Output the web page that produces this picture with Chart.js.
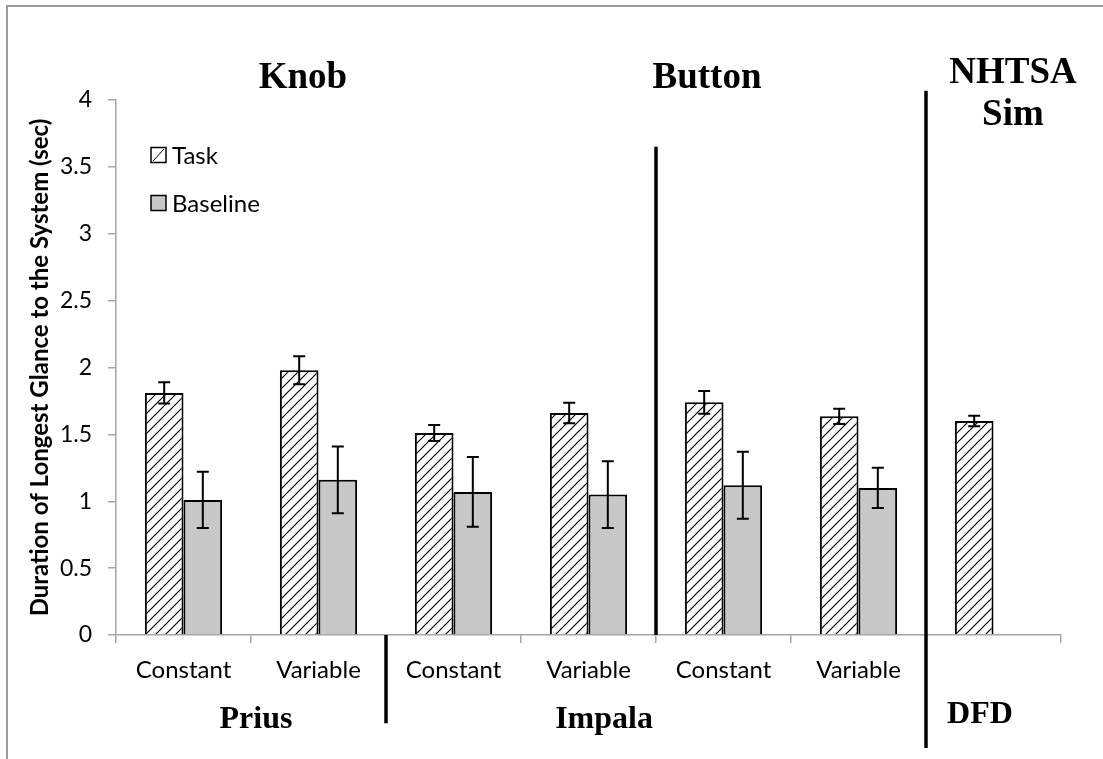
<!DOCTYPE html>
<html>
<head>
<meta charset="utf-8">
<script src="https://cdn.jsdelivr.net/npm/chart.js"></script>
<style>
  body { margin: 0; background: #fff; }
  #wrap { width: 1103px; height: 759px; position: relative; }
</style>
</head>
<body>
<div id="wrap"><canvas id="myChart"></canvas></div>
<script>
// values
const categories = ['Constant', 'Variable', 'Constant', 'Variable', 'Constant', 'Variable', ''];
const taskMeans = [1.81, 1.98, 1.51, 1.66, 1.74, 1.635, 1.60];
const taskErr = [0.08, 0.105, 0.06, 0.077, 0.085, 0.057, 0.04];
const baseMeans = [1.01, 1.16, 1.07, 1.05, 1.12, 1.10, null];
const baseErr = [0.21, 0.25, 0.26, 0.25, 0.25, 0.15, null];
const yTicks = [0, 0.5, 1, 1.5, 2, 2.5, 3, 3.5, 4];

// labels above / below the plot, at fractional category positions
const topLabels = [
  { text: 'Knob', at: 0.885, dy: -12 },
  { text: 'Button', at: 3.878, dy: -12 },
  { text: 'NHTSA', at: 6.144, dy: -17 },
  { text: 'Sim', at: 6.144, dy: 25 }
];
const bottomLabels = [
  { text: 'Prius', at: 0.537, dy: 93 },
  { text: 'Impala', at: 3.115, dy: 93 },
  { text: 'DFD', at: 5.9, dy: 88 }
];
// separators between categories: [position, top value, bottom value]
const separators = [
  [1.5, 0, -0.66],
  [3.5, 3.65, 0],
  [5.5, 4.07, -0.845]
];

function hatch() {
  const c = document.createElement('canvas');
  c.width = 10; c.height = 10;
  const g = c.getContext('2d');
  g.fillStyle = '#fff';
  g.fillRect(0, 0, 10, 10);
  g.strokeStyle = '#000';
  g.lineWidth = 1.2;
  g.beginPath();
  g.moveTo(0, 10); g.lineTo(10, 0);
  g.moveTo(-5, 5); g.lineTo(5, -5);
  g.moveTo(5, 15); g.lineTo(15, 5);
  g.stroke();
  return g.createPattern(c, 'repeat');
}

const errs = [taskErr, baseErr];

const extras = {
  id: 'extras',
  afterDatasetsDraw(chart) {
    const ctx = chart.ctx;
    const y = chart.scales.y;
    ctx.save();
    ctx.strokeStyle = '#000';
    ctx.lineWidth = 2;
    chart.data.datasets.forEach((ds, i) => {
      const meta = chart.getDatasetMeta(i);
      ds.data.forEach((v, j) => {
        if (v === null) return;
        const e = errs[i][j];
        const x = meta.data[j].x;
        const y1 = y.getPixelForValue(v + e), y2 = y.getPixelForValue(v - e);
        ctx.beginPath();
        ctx.moveTo(x, y1); ctx.lineTo(x, y2);
        ctx.moveTo(x - 6, y1); ctx.lineTo(x + 6, y1);
        ctx.moveTo(x - 6, y2); ctx.lineTo(x + 6, y2);
        ctx.stroke();
      });
    });
    ctx.restore();
  },
  afterDraw(chart) {
    const ctx = chart.ctx;
    const x = chart.scales.x, y = chart.scales.y;
    const area = chart.chartArea;
    ctx.save();
    // outer frame
    ctx.strokeStyle = '#9a9a9a';
    ctx.lineWidth = 2;
    ctx.beginPath();
    ctx.moveTo(7, 759); ctx.lineTo(7, 6); ctx.lineTo(1103, 6);
    ctx.stroke();
    // separators
    ctx.strokeStyle = '#000';
    ctx.lineWidth = 3.5;
    separators.forEach(s => {
      const px = x.getPixelForValue(s[0]);
      ctx.beginPath();
      ctx.moveTo(px, y.getPixelForValue(s[1]));
      ctx.lineTo(px, y.getPixelForValue(s[2]));
      ctx.stroke();
    });
    // group labels
    ctx.fillStyle = '#000';
    ctx.textAlign = 'center';
    ctx.textBaseline = 'alphabetic';
    ctx.font = 'bold 37px "Liberation Serif"';
    topLabels.forEach(l => ctx.fillText(l.text, x.getPixelForValue(l.at), area.top + l.dy));
    ctx.font = 'bold 32px "Liberation Serif"';
    bottomLabels.forEach(l => ctx.fillText(l.text, x.getPixelForValue(l.at), area.bottom + l.dy));
    // legend
    ctx.font = '24px Lato';
    ctx.textAlign = 'left';
    ctx.textBaseline = 'middle';
    const lx = 151, items = [['Task', 155], ['Baseline', 203]];
    items.forEach((it, k) => {
      const ly = it[1];
      ctx.fillStyle = k === 0 ? '#fff' : '#c8c8c8';
      ctx.fillRect(lx, ly - 7.5, 15, 15);
      ctx.strokeStyle = '#000';
      ctx.lineWidth = 1.5;
      ctx.strokeRect(lx, ly - 7.5, 15, 15);
      if (k === 0) {
        ctx.beginPath();
        ctx.moveTo(lx + 2, ly + 6); ctx.lineTo(lx + 13, ly - 6);
        ctx.lineWidth = 1;
        ctx.stroke();
      }
      ctx.fillStyle = '#000';
      ctx.fillText(it[0], lx + 21, ly + 1);
    });
    ctx.restore();
  }
};

new Chart(document.getElementById('myChart'), {
  type: 'bar',
  data: {
    labels: categories,
    datasets: [
      { label: 'Task', data: taskMeans, backgroundColor: hatch(), borderColor: '#000', borderWidth: 2 },
      { label: 'Baseline', data: baseMeans, backgroundColor: '#c8c8c8', borderColor: '#000', borderWidth: 2 }
    ]
  },
  options: {
    responsive: true,
    maintainAspectRatio: false,
    animation: false,
    datasets: { bar: { barPercentage: 1, categoryPercentage: 0.572 } },
    layout: { padding: { left: 0, right: 42, top: 100, bottom: 0 } },
    plugins: { legend: { display: false }, tooltip: { enabled: false } },
    scales: {
      x: {
        afterFit(s) { s.height = 124; },
        border: { color: '#a6a6a6', width: 1.5 },
        grid: { drawOnChartArea: false, offset: true, tickLength: 8, color: '#a6a6a6', lineWidth: 1.5 },
        ticks: { color: '#000', font: { family: 'Lato', size: 24 }, padding: 13, maxRotation: 0 }
      },
      y: {
        min: 0, max: 4,
        afterFit(s) { s.width = 116; },
        afterBuildTicks(s) { s.ticks = yTicks.map(v => ({ value: v })); },
        border: { color: '#a6a6a6', width: 1.5 },
        grid: { drawOnChartArea: false, tickLength: 8, color: '#a6a6a6', lineWidth: 1.5 },
        ticks: { color: '#000', font: { family: 'Lato', size: 23 }, padding: 16, callback: v => String(v) },
        title: {
          display: true,
          text: 'Duration of Longest Glance to the System (sec)',
          color: '#000',
          font: { family: 'Lato', size: 24, weight: 'bold' },
          padding: { top: 26, bottom: 0 }
        }
      }
    }
  },
  plugins: [extras]
});
</script>
</body>
</html>
